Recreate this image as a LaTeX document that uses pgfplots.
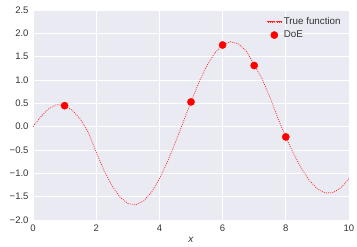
\documentclass[border=0pt]{standalone}
\usepackage{pgfplots}
\pgfplotsset{compat=1.18}
\usepackage{fontspec}
\setmainfont{Liberation Sans}
\definecolor{bg}{HTML}{EAEAF2}
\definecolor{txt}{HTML}{333333}
\begin{document}
\begin{tikzpicture}
\begin{axis}[
  scale only axis, width=316pt, height=210pt,
  xmin=0, xmax=10, ymin=-2, ymax=2.5,
  axis background/.style={fill=bg},
  axis line style={draw=none},
  major tick length=0pt,
  xtick={0,2,4,6,8,10},
  xticklabels={0,2,4,6,8,10},
  ytick={-2,-1.5,-1,-0.5,0,0.5,1,1.5,2,2.5},
  yticklabels={−2.0,−1.5,−1.0,−0.5,0.0,0.5,1.0,1.5,2.0,2.5},
  grid=major, grid style={white, line width=0.9pt},
  tick label style={font=\fontsize{9.5}{11}\selectfont\color{txt}},
  yticklabel style={xshift=-1pt},
  xticklabel style={yshift=-1pt},
  xlabel={\textit{x}},
  xlabel style={font=\fontsize{10}{12}\selectfont\color{txt}, yshift=1pt},
  legend style={draw=none, fill=none, at={(0.99,0.985)}, anchor=north east,
    font=\fontsize{9.8}{11}\selectfont, row sep=1pt},
  legend cell align=left,
]
\addplot[red!85!white, line width=0.75pt, dash pattern=on 0.9pt off 1.2pt,
  legend image code/.code={\foreach \i in {0,...,6}{\fill[red!85!white] (\i*2.2pt,-0.4pt) rectangle ++(1pt,0.9pt);}}] coordinates {
(0,0) (0.25,0.216) (0.5,0.386) (0.75,0.473) (1.0,0.455) (1.25,0.346) (1.5,0.159)
(1.75,-0.122) (2.0,-0.549) (2.25,-0.939) (2.5,-1.265) (2.75,-1.507) (3.0,-1.647)
(3.25,-1.677) (3.5,-1.593) (3.75,-1.404) (4.0,-1.117) (4.25,-0.760) (4.5,-0.348)
(4.75,0.091) (5.0,0.530) (5.25,0.949) (5.5,1.303) (5.75,1.576) (6.0,1.753)
(6.25,1.819) (6.5,1.775) (6.75,1.620) (7.0,1.330) (7.25,1.025) (7.5,0.628)
(7.75,0.181) (8.0,-0.223) (8.25,-0.582) (8.5,-0.900) (8.75,-1.157) (9.0,-1.335)
(9.25,-1.422) (9.5,-1.413) (9.75,-1.306) (10.0,-1.111)
};
\addlegendentry{\textcolor{txt}{True function}}
\addplot[only marks, mark=*, mark size=3.6pt, red, mark options={fill=red, draw=red},
  legend image code/.code={\fill[red] (7.1pt,0pt) circle (3.6pt);}] coordinates {
(1,0.45) (5,0.53) (6,1.75) (7,1.31) (8,-0.22)
};
\addlegendentry{\textcolor{txt}{DoE}}
\end{axis}
\pgfresetboundingbox
\path (current axis.south west) ++(-33pt,-27pt) rectangle ([shift={(8pt,10pt)}]current axis.north east);
\end{tikzpicture}
\end{document}
